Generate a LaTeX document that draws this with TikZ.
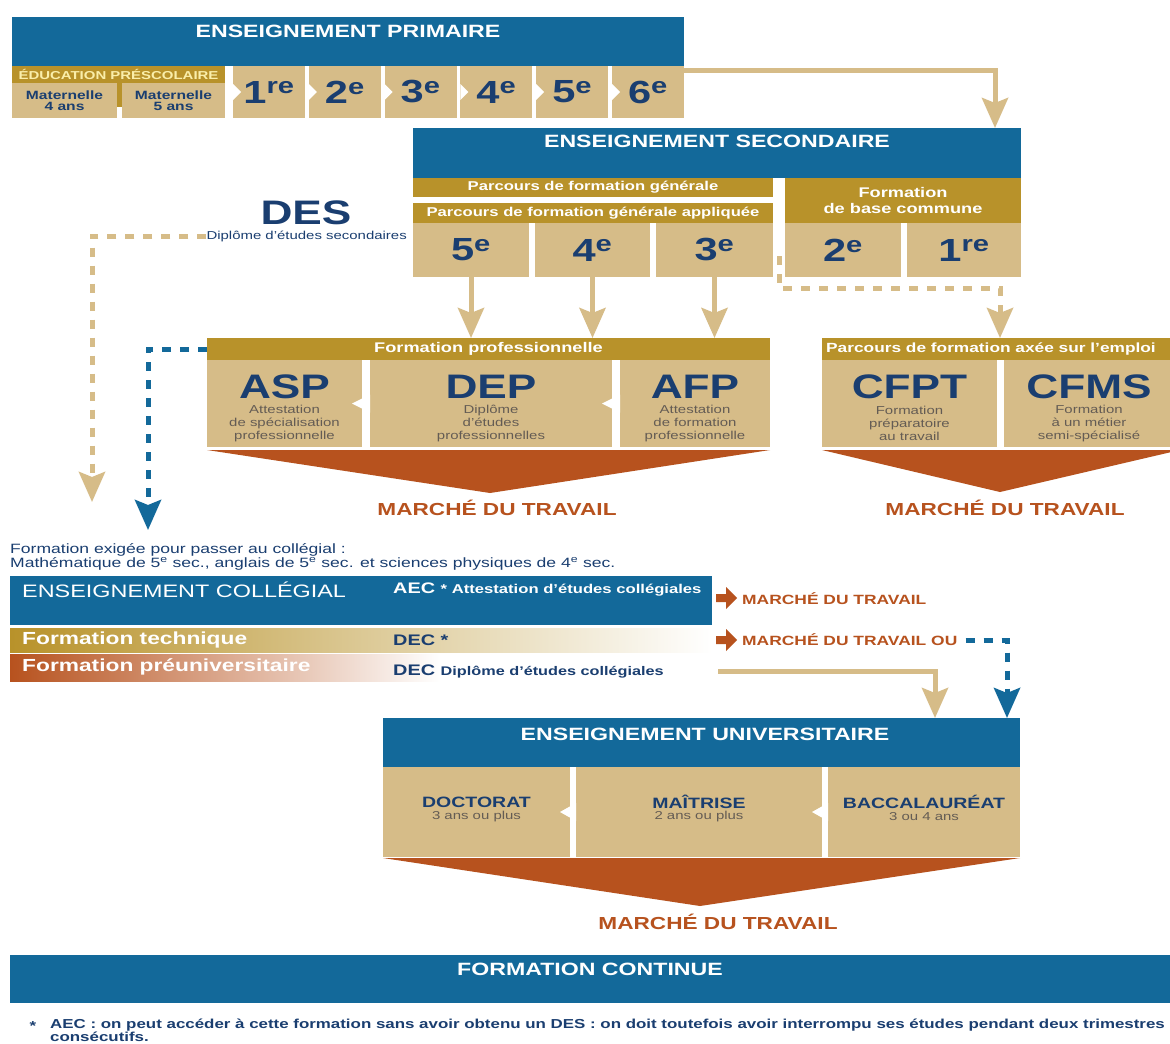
\documentclass[tikz,border=0pt]{standalone}
\usepackage{fontspec}
\setmainfont{Liberation Sans}[FakeStretch=1.3]
\usetikzlibrary{calc, positioning, arrows.meta, shapes}
\definecolor{bleu}{RGB}{19,105,154}
\definecolor{ocre}{RGB}{184,146,42}
\definecolor{sable}{RGB}{214,188,136}
\definecolor{marine}{RGB}{26,62,112}
\definecolor{rouille}{RGB}{183,82,30}
\definecolor{grisbrun}{RGB}{100,92,84}
\definecolor{pale}{RGB}{250,238,170}
\newcommand{\police}[2]{\fontsize{#1}{#2}\selectfont}

\begin{document}
\begin{tikzpicture}[x=1pt,y=-1pt]
		\tikzstyle{bandeau}=[fill=bleu,inner sep=0pt,outer sep=0pt,anchor=north west]
		\tikzstyle{barre}=[fill=ocre,inner sep=0pt,outer sep=0pt,anchor=north west,text=white,font=\bfseries\police{12.8}{14}]
		\tikzstyle{case}=[fill=sable,inner sep=0pt,outer sep=0pt,anchor=north west]
		\tikzstyle{titre}=[text=white,font=\bfseries\police{17.8}{20}]
		\tikzstyle{num}=[text=marine,font=\bfseries\police{32}{34}]
		\tikzstyle{sigle}=[text=marine,font=\bfseries\police{34}{36}]
		\tikzstyle{sous}=[text=grisbrun,align=center,font=\police{11.5}{13}]
		\tikzstyle{grade}=[text=marine,font=\bfseries\police{15}{16}]
		\tikzstyle{marche}=[text=rouille,font=\bfseries\police{17.4}{19}]
		\tikzstyle{fleche}=[-{Stealth[length=30pt,width=26pt,inset=5pt]},line width=5pt,sable]
		\tikzstyle{tiret}=[fleche,dash pattern=on 9pt off 9pt]
		\tikzstyle{tiretbleu}=[tiret,bleu]
		\useasboundingbox (0,0) rectangle (1170,1044);
		\fill[white] (0,0) rectangle (1170,1044);
		% primaire
		\node[bandeau,minimum width=672,minimum height=49] (prim) at (12,17) {};
		\node[titre] (tprim) at (348,31) {ENSEIGNEMENT PRIMAIRE};
		\node[barre,minimum width=213,minimum height=17,text=pale,font=\bfseries\police{11.5}{12}] (presco) at (12,66) {ÉDUCATION PRÉSCOLAIRE};
		\node[case,minimum width=105,minimum height=35,align=center,text=marine,font=\bfseries\police{12}{11}] (mat4) at (12,83) {Maternelle\\4 ans};
		\node[case,minimum width=103,minimum height=35,align=center,text=marine,font=\bfseries\police{12}{11}] (mat5) at (122,83) {Maternelle\\5 ans};
		\fill[ocre] (117,83) rectangle (122,107);
		\foreach \chiffre/\ex [count=\i from 0] in {1/re,2/e,3/e,4/e,5/e,6/e}{
			\node[case,minimum width=72,minimum height=52] (g\chiffre) at (233+\i*75.8,66) {};
			\node[num] (tg\chiffre) at (g\chiffre.center) {\chiffre\textsuperscript{\ex}};
			\fill[white] (g\chiffre.west) ++(0,-8) -- ++(8,8) -- ++(-8,8) -- cycle;}
		% secondaire
		\node[bandeau,minimum width=608,minimum height=50] (sec) at (413,128) {};
		\node[titre] (tsec) at (717,141) {ENSEIGNEMENT SECONDAIRE};
		\node[barre,minimum width=360,minimum height=19] (pfg) at (413,178) {Parcours de formation générale};
		\node[barre,minimum width=360,minimum height=20] (pfga) at (413,203) {Parcours de formation générale appliquée};
		\node[barre,minimum width=236,minimum height=45,align=center,font=\bfseries\police{14}{15.5}] (fbc) at (785,178) {Formation\\de base commune};
		\foreach \nom/\chiffre/\x/\w/\ex in {s5/5/413/116/e,s4/4/535/115/e,s3/3/656/117/e,s2/2/785/116/e,s1/1/907/114/re}{
			\node[case,minimum width=\w,minimum height=54] (\nom) at (\x,223) {};
			\node[num] (t\nom) at (\nom.center) {\chiffre\textsuperscript{\ex}};}
		\node[sigle] (des) at (306,213) {DES};
		\node[text=marine,font=\police{11.5}{12},anchor=east,inner sep=0] (desdip) at (407,236) {Diplôme d'études secondaires};
		% formation professionnelle
		\node[barre,minimum width=563,minimum height=22,font=\bfseries\police{14}{15}] (fp) at (207,338) {Formation professionnelle};
		\node[case,minimum width=155,minimum height=87] (asp) at (207,360) {};
		\node[case,minimum width=242,minimum height=87] (dep) at (370,360) {};
		\node[case,minimum width=150,minimum height=87] (afp) at (620,360) {};
		\foreach \nom in {dep,afp}
			\fill[white] (\nom.west) ++(0,-9) -- ++(-18,9) -- ++(18,9) -- cycle;
		\node[sigle] (tasp) at ($(asp.north)+(0,27)$) {ASP};
		\node[sous] (sasp) at ($(asp.center)+(0,20)$) {Attestation\\de spécialisation\\professionnelle};
		\node[sigle] (tdep) at ($(dep.north)+(0,27)$) {DEP};
		\node[sous] (sdep) at ($(dep.center)+(0,20)$) {Diplôme\\d'études\\professionnelles};
		\node[sigle] (tafp) at ($(afp.north)+(0,27)$) {AFP};
		\node[sous] (safp) at ($(afp.center)+(0,20)$) {Attestation\\de formation\\professionnelle};
		\fill[rouille] (207,450) -- (770,450) -- (490,493) -- cycle;
		\node[marche] (m1) at (497,508) {MARCHÉ DU TRAVAIL};
		% axee sur l'emploi
		\node[barre,minimum width=360,minimum height=22] (emp) at (822,338) {};
		\node[anchor=west,text=white,font=\bfseries\police{13.3}{15},inner sep=0] (temp) at (826,349) {Parcours de formation axée sur l'emploi};
		\node[case,minimum width=175,minimum height=87] (cfpt) at (822,360) {};
		\node[case,minimum width=170,minimum height=87] (cfms) at (1004,360) {};
		\node[sigle] (tcfpt) at ($(cfpt.north)+(0,27)$) {CFPT};
		\node[sous] (scfpt) at ($(cfpt.center)+(0,20)$) {Formation\\préparatoire\\au travail};
		\node[sigle] (tcfms) at ($(cfms.north)+(0,27)$) {CFMS};
		\node[sous] (scfms) at ($(cfms.center)+(0,20)$) {Formation\\à un métier\\semi-spécialisé};
		\fill[rouille] (822,450) -- (1180,450) -- (1000,492) -- cycle;
		\node[marche] (m2) at (1005,508) {MARCHÉ DU TRAVAIL};
		% collegial
		\node[anchor=north west,text=marine,align=left,font=\police{13.5}{13},inner sep=0] (exig) at (10,543) {Formation exigée pour passer au collégial :\\Mathématique de 5\textsuperscript{e} sec., anglais de 5\textsuperscript{e} sec. et sciences physiques de 4\textsuperscript{e} sec.};
		\node[bandeau,minimum width=702,minimum height=49] (col) at (10,576) {};
		\node[anchor=west,text=white,font=\police{18}{20},inner sep=0] (tcol) at (22,590) {ENSEIGNEMENT COLLÉGIAL};
		\node[anchor=west,text=white,font=\bfseries\police{15.3}{17},inner sep=0] (aec) at (393,590) {AEC {\police{12.8}{14}* Attestation d'études collégiales}};
		\node[anchor=north west,inner sep=0,outer sep=0,minimum width=702,minimum height=24,left color=ocre,middle color=ocre!75!white,right color=white] (tech) at (10,628) {};
		\node[anchor=north west,inner sep=0,outer sep=0,minimum width=430,minimum height=27,left color=rouille,middle color=rouille!80!white,right color=white] (preu) at (10,654) {};
		\node[anchor=west,text=white,font=\bfseries\police{17.5}{19},inner sep=0] (ttech) at (22,640) {Formation technique};
		\node[anchor=west,text=marine,font=\bfseries\police{15.3}{17},inner sep=0] (dec1) at (393,640) {DEC *};
		\node[anchor=west,text=white,font=\bfseries\police{17.5}{19},inner sep=0] (tpreu) at (22,667) {Formation préuniversitaire};
		\node[anchor=west,text=marine,font=\bfseries\police{15.3}{17},inner sep=0] (dec2) at (393,671) {DEC {\police{12.5}{14}Diplôme d'études collégiales}};
		\foreach \y in {598,640}
			\fill[rouille] (716,\y-4) -- (726,\y-4) -- (726,\y-11) -- (737,\y) -- (726,\y+11) -- (726,\y+4) -- (716,\y+4) -- cycle;
		\node[anchor=west,text=rouille,font=\bfseries\police{13.4}{15},inner sep=0] (mt1) at (742,599) {MARCHÉ DU TRAVAIL};
		\node[anchor=west,text=rouille,font=\bfseries\police{13.4}{15},inner sep=0] (mt2) at (742,640) {MARCHÉ DU TRAVAIL OU};
		% universitaire
		\node[bandeau,minimum width=637,minimum height=49] (univ) at (383,718) {};
		\node[titre] (tuniv) at (705,734) {ENSEIGNEMENT UNIVERSITAIRE};
		\node[case,minimum width=187,minimum height=90] (doc) at (383,767) {};
		\node[case,minimum width=246,minimum height=90] (mai) at (576,767) {};
		\node[case,minimum width=192,minimum height=90] (bac) at (828,767) {};
		\foreach \nom in {mai,bac}
			\fill[white] (\nom.west) ++(0,-9) -- ++(-16,9) -- ++(16,9) -- cycle;
		\node[grade] (tdoc) at ($(doc.center)+(0,-10)$) {DOCTORAT};
		\node[sous] (sdoc) at ($(doc.center)+(0,5)$) {3 ans ou plus};
		\node[grade] (tmai) at ($(mai.center)+(0,-10)$) {MAÎTRISE};
		\node[sous] (smai) at ($(mai.center)+(0,5)$) {2 ans ou plus};
		\node[grade] (tbac) at ($(bac.center)+(0,-10)$) {BACCALAURÉAT};
		\node[sous] (sbac) at ($(bac.center)+(0,5)$) {3 ou 4 ans};
		\fill[rouille] (383,858) -- (1020,858) -- (700,906) -- cycle;
		\node[marche] (m3) at (718,922) {MARCHÉ DU TRAVAIL};
		% formation continue
		\node[bandeau,minimum width=1160,minimum height=48] (fc) at (10,955) {};
		\node[titre] (tfc) at (590,969) {FORMATION CONTINUE};
		\node[text=marine,font=\bfseries\police{13}{11},inner sep=0] (etoile) at (33,1026) {*};
		\node[anchor=north west,text=marine,align=left,font=\bfseries\police{13}{11},inner sep=0] (note) at (50,1019) {AEC : on peut accéder à cette formation sans avoir obtenu un DES : on doit toutefois avoir interrompu ses études pendant deux trimestres\\consécutifs.};
		% fleches
		\coordinate (d1) at (779,256);
		\coordinate (desbas) at (92,502);
		\coordinate (bleubas) at (148,530);
		\coordinate (depart) at (718,671);
		\draw[fleche] ([yshift=-4pt]g6.north east) -| ([xshift=-26pt]sec.north east);
		\foreach \nom in {s5,s4,s3}
			\draw[fleche] (\nom.south) -- (\nom.south |- fp.north);
		\draw[tiret] (d1) -- ++(0,32) -| ([xshift=178pt]emp.north west);
		\draw[tiret] (desdip.west) -| (desbas);
		\draw[tiretbleu] (fp.west) -| (bleubas);
		\draw[tiretbleu] ([xshift=8pt]mt2.east) -| ([xshift=-13pt]univ.north east);
		\draw[fleche] (depart) -| ([xshift=-85pt]univ.north east);
	\end{tikzpicture}
\end{document}
